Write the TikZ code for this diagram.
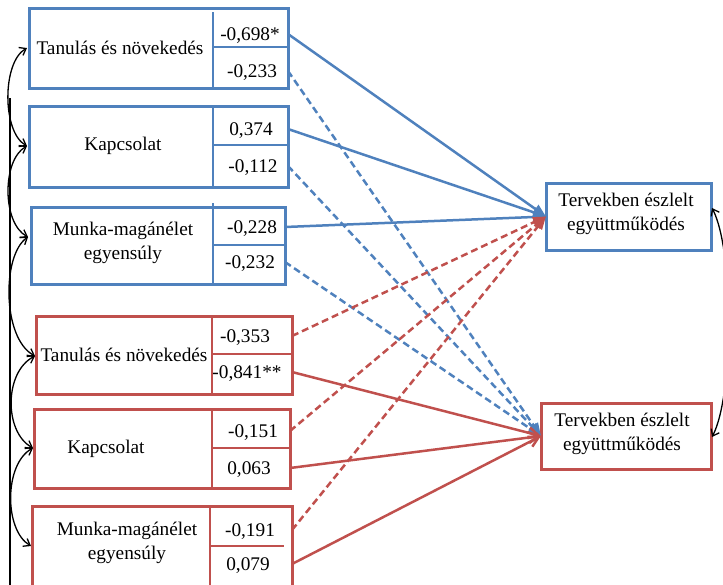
\documentclass[tikz,border=0pt]{standalone}
\usepackage{fontspec}
\setmainfont{Liberation Serif}
\usetikzlibrary{arrows.meta}
\definecolor{sblue}{RGB}{79,129,189}
\definecolor{sred}{RGB}{192,80,77}
\begin{document}
\begin{tikzpicture}[x=1pt,y=-1pt,
  box/.style={draw, line width=3pt, inner sep=0pt, outer sep=0pt},
  bbox/.style={box, draw=sblue},
  rbox/.style={box, draw=sred},
  lbl/.style={inner sep=0pt, align=center, font=\fontsize{19.3}{24}\selectfont},
  num/.style={inner sep=0pt, text depth=0pt, font=\fontsize{19.3}{23}\selectfont},
  divb/.style={sblue, line width=1.1pt},
  divr/.style={sred, line width=1.1pt},
  solidb/.style={sblue, line width=2.5pt, -{Triangle[length=13pt,width=10pt]}},
  dashb/.style={sblue, line width=2.5pt, dash pattern=on 7pt off 4pt, -{Triangle[length=13pt,width=10pt]}},
  solidr/.style={sred, line width=2.5pt, -{Straight Barb[length=10pt,width=11pt]}},
  dashr/.style={sred, line width=2.5pt, dash pattern=on 7pt off 4pt, -{Triangle[length=13pt,width=10pt]}},
  cor/.style={black, line width=1.3pt, {Straight Barb[length=6pt,width=9pt]}-{Straight Barb[length=6pt,width=9pt]}}
]
\useasboundingbox (0,0) rectangle (723,584);

% ---- blue boxes
\node[bbox, minimum width=259pt, minimum height=80pt] (b1) at (158.5,48) {};
\node[bbox, minimum width=259pt, minimum height=81pt] (b2) at (158.5,146.5) {};
\node[bbox, minimum width=254pt, minimum height=77pt] (b3) at (158,245.5) {};
% ---- red boxes
\node[rbox, minimum width=256pt, minimum height=78pt] (r1) at (164,355) {};
\node[rbox, minimum width=256pt, minimum height=79pt] (r2) at (162,448.5) {};
\node[rbox, minimum width=260pt, minimum height=84pt] (r3) at (162,548) {};
% ---- targets
\node[bbox, minimum width=165pt, minimum height=67pt] (t1) at (628.5,216.5) {};
\node[rbox, minimum width=170pt, minimum height=66pt] (t2) at (626,436) {};

% ---- dividers
\draw[divb] (213,12) -- (213,90);  \draw[divb] (213,47) -- (b1.east |- 0,47);
\draw[divb] (213,106) -- (213,187); \draw[divb] (213,145) -- (b2.east |- 0,145);
\draw[divb] (213,203) -- (213,284); \draw[divb] (213,245) -- (b3.east |- 0,245);
\draw[divr] (212,316) -- (212,394); \draw[divr] (212,354) -- (r1.east |- 0,354);
\draw[divr] (212,409) -- (212,488); \draw[divr] (212,448) -- (r2.east |- 0,448);
\draw[divr] (210,506) -- (210,590); \draw[divr] (210,546) -- (284,546);

% ---- labels
\node[lbl] (b1l) at (120,48) {Tanulás és növekedés};
\node[lbl] (b2l) at (123,146) {Kapcsolat};
\node[lbl] (b3l) at (123,243) {Munka-magánélet\\egyensúly};
\node[lbl] (r1l) at (124,355) {Tanulás és növekedés};
\node[lbl] (r2l) at (106,449) {Kapcsolat};
\node[lbl] (r3l) at (127,543) {Munka-magánélet\\egyensúly};
\node[lbl] (t1l) at (626,214) {Tervekben észlelt\\együttműködés};
\node[lbl] (t2l) at (622,434) {Tervekben észlelt\\együttműködés};

% ---- numbers
\node[num] (b1t) at (250,34) {-0,698*};
\node[num] (b1b) at (252,71) {-0,233};
\node[num] (b2t) at (251,129) {0,374};
\node[num] (b2b) at (253,166) {-0,112};
\node[num] (b3t) at (252,227) {-0,228};
\node[num] (b3b) at (250,262) {-0,232};
\node[num] (r1t) at (245,336) {-0,353};
\node[num] (r1b) at (247,372) {-0,841**};
\node[num] (r2t) at (253,431) {-0,151};
\node[num] (r2b) at (249,468) {0,063};
\node[num] (r3t) at (250,530) {-0,191};
\node[num] (r3b) at (248,564) {0,079};

% ---- paths to the red target (drawn first)
\draw[dashb] (b1.east |- b1b) -- (t2.west);
\draw[dashb] (b2.east |- b2b) -- (t2.west);
\draw[dashb] (b3.east |- b3b) -- (t2.west);
\draw[solidr] (r1.east |- r1b) -- (t2.west);
\draw[solidr] (r2.east |- r2b) -- (t2.west);
\draw[solidr] (r3.east |- r3b) -- (t2.west);
% ---- paths to the blue target
\draw[solidb] (b1.east |- b1t) -- (t1.west);
\draw[solidb] (b2.east |- b2t) -- (t1.west);
\draw[solidb] (b3.east |- b3t) -- (t1.west);
\draw[dashr] (r1.east |- r1t) -- (t1.west);
\draw[dashr] (r2.east |- r2t) -- (t1.west);
\draw[dashr] (r3.east |- r3t) -- (t1.west);

% ---- correlations on the left
\coordinate (p1) at (27,48);
\coordinate (p2) at (27,146);
\coordinate (p3) at (28,237);
\coordinate (p4) at (35,356);
\coordinate (p5) at (33,448);
\coordinate (p6) at (31,546);
\coordinate (vtop) at (10,98);
\coordinate (vbot) at (10,590);
\draw[black, line width=1.3pt] (vtop) -- (vbot);
\draw[cor] (p1) .. controls (2,62) and (2,132) .. (p2);
\draw[cor] (p2) .. controls (2,160) and (2,223) .. (p3);
\draw[cor] (p3) .. controls (2,255) and (2,338) .. (p4);
\draw[cor] (p4) .. controls (4,372) and (4,432) .. (p5);
\draw[cor] (p5) .. controls (4,464) and (4,530) .. (p6);
% ---- correlation on the right
\coordinate (q1) at (712,208);
\coordinate (q2) at (712,437);
\draw[cor] (q1) .. controls (734,250) and (734,395) .. (q2);
\end{tikzpicture}
\end{document}
